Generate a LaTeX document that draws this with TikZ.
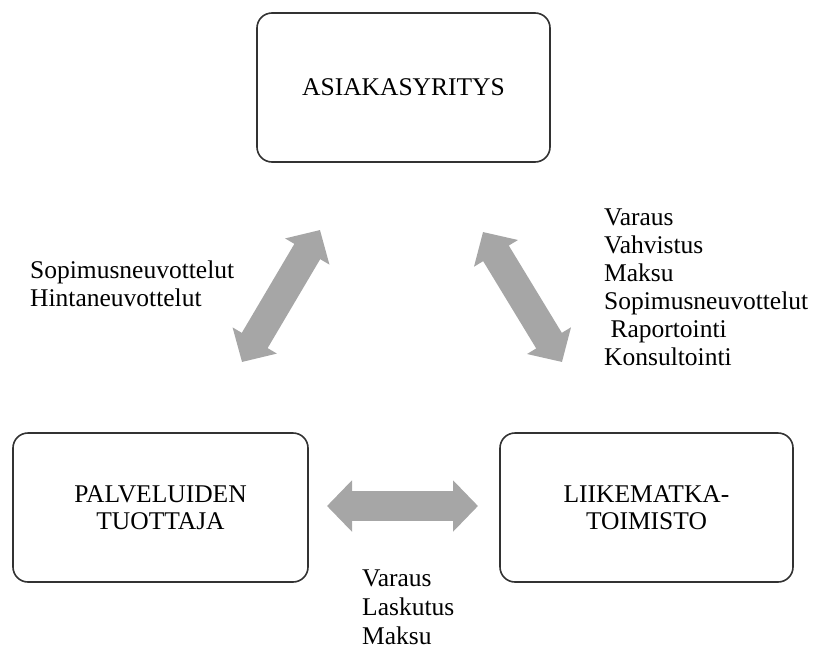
\documentclass[tikz,border=0pt]{standalone}
\usepackage{fontspec}
\setmainfont{Liberation Serif}
\usetikzlibrary{arrows.meta}
\definecolor{arrgray}{RGB}{166,166,166}
\definecolor{boxline}{RGB}{50,50,50}
\begin{document}
\begin{tikzpicture}[x=1pt,y=-1pt,
  entity/.style={draw=boxline,line width=1.6pt,rounded corners=15pt,minimum width=293pt,minimum height=149pt,align=center,inner sep=0pt,font=\fontsize{25.5}{27}\selectfont},
  lbl/.style={align=left,anchor=west,inner sep=0pt,font=\fontsize{25.5}{28}\selectfont},
  blockarrow/.style={line width=30pt,draw=arrgray,{Triangle[length=25pt,width=50pt,fill=arrgray]}-{Triangle[length=25pt,width=50pt,fill=arrgray]}}]
\useasboundingbox (0,0) rectangle (814,651);
\node[entity] (top) at (403.5,87.5) {ASIAKASYRITYS};
\node[entity,minimum width=295pt] (left) at (160.5,507.5) {PALVELUIDEN\\TUOTTAJA};
\node[entity] (right) at (646.5,507.5) {LIIKEMATKA-\\TOIMISTO};
\coordinate (a1) at (320,230);
\coordinate (a2) at (242,362);
\coordinate (b1) at (483,232);
\coordinate (b2) at (562,362);
\coordinate (c1) at (327,506);
\coordinate (c2) at (478,506);
\draw[blockarrow] (a1) -- (a2);
\draw[blockarrow] (b1) -- (b2);
\draw[blockarrow] (c1) -- (c2);
\node[lbl] (ltxt) at (30,284) {Sopimusneuvottelut\\Hintaneuvottelut};
\node[lbl] (rtxt) at (604,287) {Varaus\\Vahvistus\\Maksu\\Sopimusneuvottelut\\\hspace{0.25em}Raportointi\\Konsultointi};
\node[lbl,font=\fontsize{25.5}{29}\selectfont] (btxt) at (362,607) {Varaus\\Laskutus\\Maksu};
\end{tikzpicture}
\end{document}
